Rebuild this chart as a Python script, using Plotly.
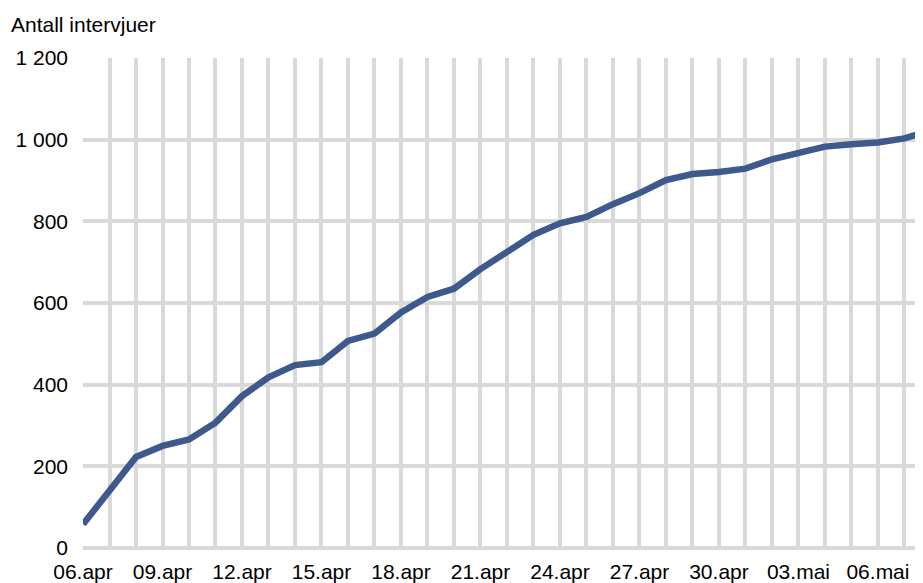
import plotly.graph_objects as go

days = ["06.apr", "07.apr", "08.apr", "09.apr", "10.apr", "11.apr", "12.apr",
        "13.apr", "14.apr", "15.apr", "16.apr", "17.apr", "18.apr", "19.apr",
        "20.apr", "21.apr", "22.apr", "23.apr", "24.apr", "25.apr", "26.apr",
        "27.apr", "28.apr", "29.apr", "30.apr", "01.mai", "02.mai", "03.mai",
        "04.mai", "05.mai", "06.mai", "07.mai", "08.mai"]
interviews = [58, 139, 223, 250, 266, 307, 372, 418, 448, 455, 507, 525, 577,
              615, 635, 683, 724, 767, 795, 811, 842, 869, 901, 916, 921, 929,
              952, 969, 983, 989, 993, 1003, 1023]
y_ticks = [0, 200, 400, 600, 800, 1000, 1200]
y_labels = ["0", "200", "400", "600", "800", "1 000", "1 200"]

# every day gets a gridline, only every third gets a label
x_idx = list(range(len(days)))
x_text = [d if i % 3 == 0 else "" for i, d in enumerate(days)]

grid = "#D9D9D9"
font = dict(family="Liberation Sans, Arial, sans-serif", size=21, color="#000000")

fig = go.Figure()
fig.add_trace(go.Scatter(x=x_idx, y=interviews, mode="lines",
                         line=dict(color="#3E5A8C", width=6.5), showlegend=False))

# page body adds 8px, so the figure is a bit smaller than the window
fig.update_layout(
    width=915, height=575,
    margin=dict(l=75, r=0, t=50, b=35),
    paper_bgcolor="white", plot_bgcolor="white",
    font=font,
    xaxis=dict(range=[0, 31.7], tickvals=x_idx, ticktext=x_text, automargin=False,
               showgrid=True, gridcolor=grid, gridwidth=4, zeroline=False,
               showline=False, ticks="", ticklabelstandoff=9),
    yaxis=dict(range=[0, 1200], tickvals=y_ticks, ticktext=y_labels, automargin=False,
               showgrid=True, gridcolor=grid, gridwidth=4,
               zeroline=True, zerolinecolor=grid, zerolinewidth=4,
               showline=False, ticks="", ticklabelstandoff=14),
    annotations=[dict(text="Antall intervjuer", xref="paper", yref="paper",
                      x=-75 / 840, y=1, xanchor="left", yanchor="bottom",
                      xshift=1, yshift=20, showarrow=False, font=font)],
)

fig.write_html("out.html")
